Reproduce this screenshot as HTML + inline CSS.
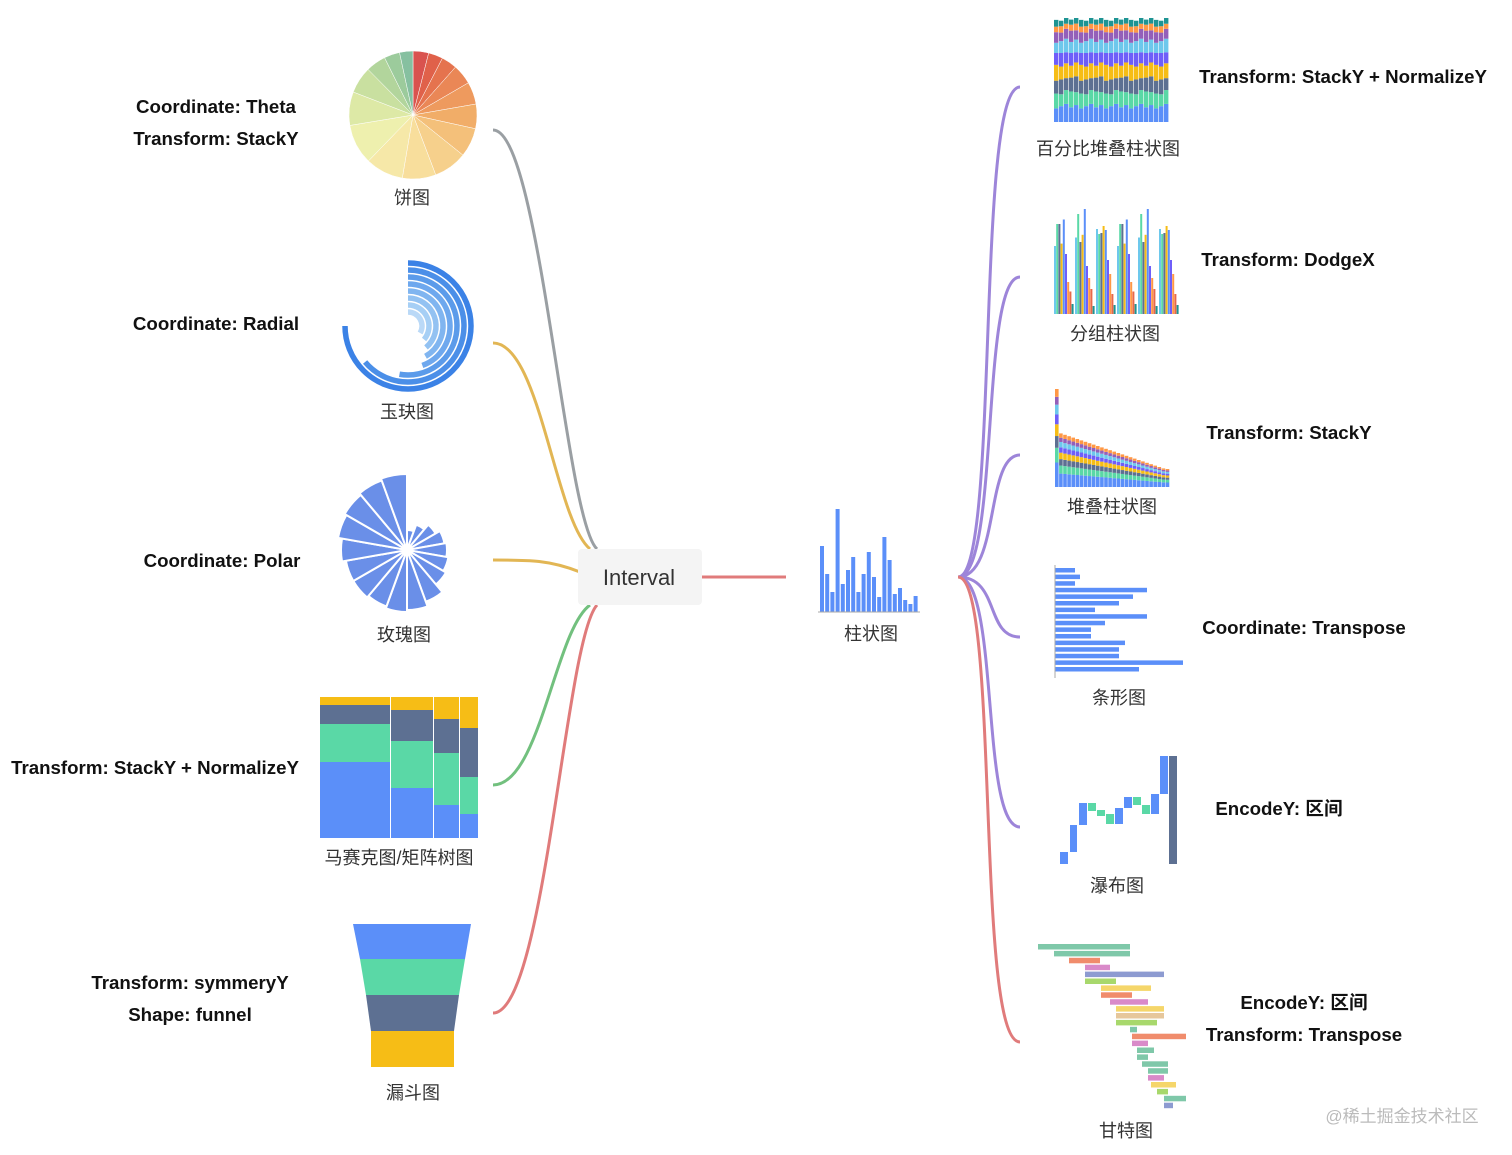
<!DOCTYPE html>
<html><head><meta charset="utf-8"><style>
body{margin:0;background:#fff;width:1512px;height:1155px;overflow:hidden}
svg{display:block}
text{font-family:"Liberation Sans","Noto Sans CJK SC",sans-serif}
.b{font-weight:bold;font-size:18.7px;fill:#111}
.c{font-size:18px;fill:#333}
</style></head><body>
<svg id="s" width="1512" height="1155" viewBox="0 0 1512 1155">
<g fill="none" stroke-width="3">
<path d="M597,549 C565,520 540,130 493,130" stroke="#9a9fa3"/>
<path d="M590,549 C555,520 540,343 493,343" stroke="#e2b654"/>
<path d="M580,572 C550,560 530,560 493,560" stroke="#e2b654"/>
<path d="M590,605 C555,630 540,785 493,785" stroke="#72c07e"/>
<path d="M597,605 C565,640 545,1013 493,1013" stroke="#e07b7b"/>
<path d="M702,577 L786,577" stroke="#e07b7b"/>
<path d="M958,577 C1000,577 975,87 1020,87" stroke="#9d85d9"/>
<path d="M958,577 C1000,577 980,277 1020,277" stroke="#9d85d9"/>
<path d="M958,577 C1000,577 985,455 1020,455" stroke="#9d85d9"/>
<path d="M958,577 C1000,577 985,637 1020,637" stroke="#9d85d9"/>
<path d="M958,577 C1000,577 980,827 1020,827" stroke="#9d85d9"/>
<path d="M958,577 C1000,577 975,1042 1020,1042" stroke="#e07b7b"/>
</g>
<rect x="578" y="549" width="124" height="56" rx="4" fill="#f4f4f4"/>
<text x="639" y="585" text-anchor="middle" font-size="22" fill="#333">Interval</text>
<g id="dyn"></g>
<text class="b" x="216" y="113" text-anchor="middle">Coordinate: Theta</text>
<text class="b" x="216" y="145" text-anchor="middle">Transform: StackY</text>
<text class="b" x="216" y="330" text-anchor="middle">Coordinate: Radial</text>
<text class="b" x="222" y="567" text-anchor="middle">Coordinate: Polar</text>
<text class="b" x="155" y="774" text-anchor="middle">Transform: StackY + NormalizeY</text>
<text class="b" x="190" y="989" text-anchor="middle">Transform: symmeryY</text>
<text class="b" x="190" y="1021" text-anchor="middle">Shape: funnel</text>
<text class="c" x="412" y="204" text-anchor="middle">饼图</text>
<text class="c" x="407" y="418" text-anchor="middle">玉玦图</text>
<text class="c" x="404" y="641" text-anchor="middle">玫瑰图</text>
<text class="c" x="399" y="864" text-anchor="middle">马赛克图/矩阵树图</text>
<text class="c" x="413" y="1099" text-anchor="middle">漏斗图</text>
<text class="c" x="871" y="640" text-anchor="middle">柱状图</text>
<text class="c" x="1108" y="155" text-anchor="middle">百分比堆叠柱状图</text>
<text class="c" x="1115" y="340" text-anchor="middle">分组柱状图</text>
<text class="c" x="1112" y="513" text-anchor="middle">堆叠柱状图</text>
<text class="c" x="1119" y="704" text-anchor="middle">条形图</text>
<text class="c" x="1117" y="892" text-anchor="middle">瀑布图</text>
<text class="c" x="1126" y="1137" text-anchor="middle">甘特图</text>
<text class="b" x="1343" y="83" text-anchor="middle">Transform: StackY + NormalizeY</text>
<text class="b" x="1288" y="266" text-anchor="middle">Transform: DodgeX</text>
<text class="b" x="1289" y="439" text-anchor="middle">Transform: StackY</text>
<text class="b" x="1304" y="634" text-anchor="middle">Coordinate: Transpose</text>
<text class="b" x="1279" y="815" text-anchor="middle">EncodeY: 区间</text>
<text class="b" x="1304" y="1009" text-anchor="middle">EncodeY: 区间</text>
<text class="b" x="1304" y="1041" text-anchor="middle">Transform: Transpose</text>
<text x="1402" y="1122" text-anchor="middle" font-size="17" fill="#bbb">@稀土掘金技术社区</text>
<polygon points="353,924 471,924 465,959 360,959" fill="#5b8ff9"/>
<polygon points="360,959 465,959 459,995 366,995" fill="#5ad8a6"/>
<polygon points="366,995 459,995 454,1031 371,1031" fill="#5d7092"/>
<polygon points="371,1031 454,1031 454,1067 371,1067" fill="#f6bd16"/>
<g>
<rect x="320" y="697" width="70" height="8" fill="#f6bd16"/><rect x="320" y="705" width="70" height="19" fill="#5d7092"/><rect x="320" y="724" width="70" height="38" fill="#5ad8a6"/><rect x="320" y="762" width="70" height="76" fill="#5b8ff9"/>
<rect x="391" y="697" width="42" height="13" fill="#f6bd16"/><rect x="391" y="710" width="42" height="31" fill="#5d7092"/><rect x="391" y="741" width="42" height="47" fill="#5ad8a6"/><rect x="391" y="788" width="42" height="50" fill="#5b8ff9"/>
<rect x="434" y="697" width="25" height="22" fill="#f6bd16"/><rect x="434" y="719" width="25" height="34" fill="#5d7092"/><rect x="434" y="753" width="25" height="52" fill="#5ad8a6"/><rect x="434" y="805" width="25" height="33" fill="#5b8ff9"/>
<rect x="460" y="697" width="18" height="31" fill="#f6bd16"/><rect x="460" y="728" width="18" height="49" fill="#5d7092"/><rect x="460" y="777" width="18" height="37" fill="#5ad8a6"/><rect x="460" y="814" width="18" height="24" fill="#5b8ff9"/>
</g>
</svg>
<script>
const g=document.getElementById('dyn');let h='';
function P(a,r,cx,cy){a=(a-90)*Math.PI/180;return [cx+r*Math.cos(a),cy+r*Math.sin(a)];}
function sector(cx,cy,r,a0,a1,fill,st){const p0=P(a0,r,cx,cy),p1=P(a1,r,cx,cy);return `<path d="M${cx},${cy}L${p0[0]},${p0[1]}A${r},${r} 0 ${a1-a0>180?1:0} 1 ${p1[0]},${p1[1]}Z" fill="${fill}" ${st||''}/>`;}
const pc=['#d9534f','#e0614a','#e5734e','#ea8756','#ee9a5e','#f1ad68','#f4c07a','#f6d08c','#f8de9c','#f6e8a8','#eef0ae','#dde9a6','#c9e0a0','#b2d59c','#9ccb9c','#86c0a0'];
const pw=[14,13,14,18,20,22,26,30,30,34,36,30,24,18,14,12];let s=0;const tot=pw.reduce((a,b)=>a+b);
pw.forEach((w,i)=>{const a=w/tot*360;h+=sector(413,115,64,s,s+a,pc[i],'stroke="#fff" stroke-width="0.5"');s+=a;});
const rr=[[63,270],[56,230],[49,190],[42,160],[35,150],[28,140],[21,130],[14,120]];
const rcol=['#3b82e6','#4b8fe8','#5b9bea','#6ea8ee','#80b5f0','#93c2f2','#a6cff5','#bad9f7'];
rr.forEach((v,i)=>{const [r,a]=v;const p0=P(0,r,408,326),p1=P(a,r,408,326);h+=`<path d="M${p0[0]},${p0[1]}A${r},${r} 0 ${a>180?1:0} 1 ${p1[0]},${p1[1]}" fill="none" stroke="${rcol[i]}" stroke-width="5.5"/>`;});
const rv=[20,27,33,38,40,42,45,55,60,62,60,62,62,66,70,72,74,76];
rv.forEach((r,i)=>{h+=sector(407,550,r,i*20,i*20+20,'#6a8fe8','stroke="#fff" stroke-width="2"');});
const bv=[66,38,20,103,28,42,55,20,38,60,35,15,75,52,18,24,12,8,16];
bv.forEach((v,i)=>{h+=`<rect x="${820+i*5.2}" y="${612-v}" width="4" height="${v}" fill="#5b8ff9"/>`;});
h+=`<line x1="818" y1="612" x2="920" y2="612" stroke="#aaa"/>`;
const cs=['#5b8ff9','#5ad8a6','#5d7092','#f6bd16','#6f5ef9','#6dc8ec','#945fb9','#ff9845','#1e9493'];
for(let i=0;i<23;i++){let y=122;const base=[16,14,14,14,12,12,10,6,6];base.forEach((b,k)=>{const hh=b*(0.85+((i*7+k*3)%5)*0.07);h+=`<rect x="${1054+i*5}" y="${y-hh}" width="4.4" height="${hh}" fill="${cs[k]}"/>`;y-=hh;});}
h+=`<rect x="1052" y="14" width="118" height="4" fill="#fff"/>`;
for(let gI=0;gI<6;gI++){const vals=[85,100,90,88,105,60,40,25,10];vals.forEach((v,k)=>{const vv=v*(0.8+((gI+k)%3)*0.1);h+=`<rect x="${1054+gI*21+k*2.2}" y="${314-vv}" width="2" height="${vv}" fill="${['#6dc8ec','#5ad8a6','#5d7092','#f6bd16','#5b8ff9','#6f5ef9','#ff9845','#e8684a','#1e9493'][k]}"/>`;});}
for(let i=0;i<28;i++){let tot=i==0?98:Math.max(18,55-i*1.4);let y=487;const fr=[0.25,0.15,0.12,0.12,0.1,0.1,0.08,0.08];fr.forEach((f,k)=>{const hh=tot*f;h+=`<rect x="${1055+i*4.1}" y="${y-hh}" width="3.6" height="${hh}" fill="${cs[k]}"/>`;y-=hh;});}
const hb=[20,25,20,92,78,64,40,92,50,36,36,70,64,64,128,84];
hb.forEach((v,i)=>{h+=`<rect x="1055" y="${568+i*6.6}" width="${v}" height="4.5" fill="#5b8ff9"/>`;});
h+=`<line x1="1055" y1="565" x2="1055" y2="678" stroke="#aaa"/>`;
h+=`<rect x="1060" y="852" width="8" height="12" fill="#5b8ff9"/><rect x="1070" y="825" width="7" height="27" fill="#5b8ff9"/><rect x="1079" y="803" width="8" height="22" fill="#5b8ff9"/><rect x="1088" y="803" width="8" height="8" fill="#5ad8a6"/><rect x="1097" y="810" width="8" height="6" fill="#5ad8a6"/><rect x="1106" y="814" width="8" height="10" fill="#5ad8a6"/><rect x="1115" y="808" width="8" height="16" fill="#5b8ff9"/><rect x="1124" y="797" width="8" height="11" fill="#5b8ff9"/><rect x="1133" y="797" width="8" height="8" fill="#5ad8a6"/><rect x="1142" y="805" width="8" height="9" fill="#5ad8a6"/><rect x="1151" y="794" width="8" height="20" fill="#5b8ff9"/><rect x="1160" y="756" width="8" height="38" fill="#5b8ff9"/><rect x="1169" y="756" width="8" height="108" fill="#5d7092"/>`;
const gt=[[1038,1130,'#7fc8a9'],[1054,1130,'#7fc8a9'],[1069,1100,'#f08c6c'],[1085,1110,'#d98ac9'],[1085,1164,'#8d9bd1'],[1085,1116,'#a8d86c'],[1101,1151,'#f5d66a'],[1101,1132,'#f08c6c'],[1110,1148,'#d98ac9'],[1116,1164,'#f5d66a'],[1116,1164,'#e6c79b'],[1116,1157,'#a8d86c'],[1130,1137,'#7fc8a9'],[1132,1186,'#f08c6c'],[1132,1148,'#d98ac9'],[1137,1154,'#7fc8a9'],[1137,1148,'#7fc8a9'],[1142,1168,'#7fc8a9'],[1148,1168,'#7fc8a9'],[1148,1164,'#d98ac9'],[1151,1176,'#f5d66a'],[1157,1168,'#a8d86c'],[1164,1186,'#7fc8a9'],[1164,1173,'#8d9bd1']];
gt.forEach((v,i)=>{h+=`<rect x="${v[0]}" y="${944+i*6.9}" width="${v[1]-v[0]}" height="5.5" fill="${v[2]}"/>`;});
g.innerHTML=h;
</script>
</body></html>
